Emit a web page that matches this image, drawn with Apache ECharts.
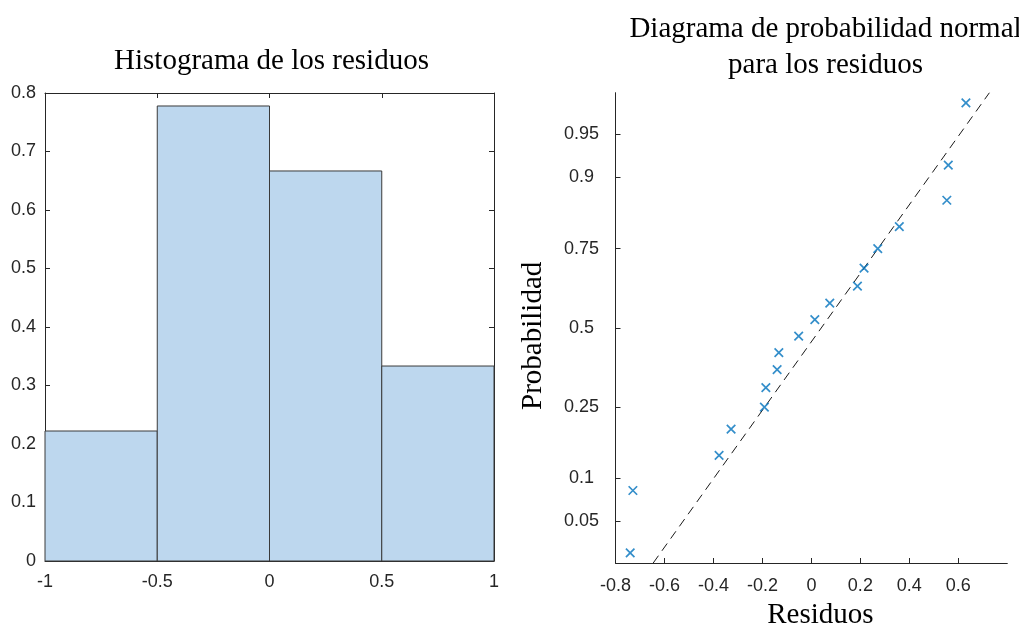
<!DOCTYPE html>
<html>
<head>
<meta charset="utf-8">
<script src="https://cdn.jsdelivr.net/npm/echarts@6/dist/echarts.min.js"></script>
<style>
  html, body { margin: 0; padding: 0; background: #ffffff; }
  #chart { width: 1019px; height: 628px; }
</style>
</head>
<body>
<div id="chart"></div>
<script>
// Histogram bins: edges and normalized heights (probability density)
const binStarts = [-1, -0.5, 0, 0.5];
const binEnds = [-0.5, 0, 0.5, 1];
const binDensity = [0.2222, 0.7778, 0.6667, 0.3333];

// Sorted residuals and their plotting probabilities
const residuals = [-0.740, -0.729, -0.377, -0.328, -0.192, -0.186, -0.140, -0.133, -0.052,
                   0.014, 0.075, 0.188, 0.215, 0.271, 0.359, 0.553, 0.559, 0.631];
const probabilities = [0.0278, 0.0833, 0.1389, 0.1944, 0.25, 0.3056, 0.3611, 0.4167, 0.4722,
                       0.5278, 0.5833, 0.6389, 0.6944, 0.75, 0.8056, 0.8611, 0.9167, 0.9722];

// Reference line ends: residual value and normal quantile
const refLineX = [-0.646, 0.727];
const refLineZ = [-2, 2];

// Probability axis ticks
const probTicks = [0.05, 0.1, 0.25, 0.5, 0.75, 0.9, 0.95];
const probTickLabels = ['0.05', '0.1', '0.25', '0.5', '0.75', '0.9', '0.95'];

// Inverse standard normal CDF (Acklam's rational approximation)
function norminv(p) {
  const a = [-3.969683028665376e+01, 2.209460984245205e+02, -2.759285104469687e+02,
             1.383577518672690e+02, -3.066479806614716e+01, 2.506628277459239e+00];
  const b = [-5.447609879822406e+01, 1.615858368580409e+02, -1.556989798598866e+02,
             6.680131188771972e+01, -1.328068155288572e+01];
  const c = [-7.784894002430293e-03, -3.223964580411365e-01, -2.400758277161838e+00,
             -2.549732539343734e+00, 4.374664141464968e+00, 2.938163982698783e+00];
  const d = [7.784695709041462e-03, 3.224671290700398e-01, 2.445134137142996e+00,
             3.754408661907416e+00];
  const pl = 0.02425, ph = 1 - pl;
  let q, r;
  if (p < pl) {
    q = Math.sqrt(-2 * Math.log(p));
    return (((((c[0]*q+c[1])*q+c[2])*q+c[3])*q+c[4])*q+c[5]) / ((((d[0]*q+d[1])*q+d[2])*q+d[3])*q+1);
  }
  if (p <= ph) {
    q = p - 0.5; r = q * q;
    return (((((a[0]*r+a[1])*r+a[2])*r+a[3])*r+a[4])*r+a[5])*q / (((((b[0]*r+b[1])*r+b[2])*r+b[3])*r+b[4])*r+1);
  }
  q = Math.sqrt(-2 * Math.log(1 - p));
  return -(((((c[0]*q+c[1])*q+c[2])*q+c[3])*q+c[4])*q+c[5]) / ((((d[0]*q+d[1])*q+d[2])*q+d[3])*q+1);
}

const probTickZ = probTicks.map(norminv);

const AX = '#262626';
const SANS = 'Liberation Sans';
const SERIF = 'Liberation Serif';
const tickLabel = { color: AX, fontSize: 18, fontFamily: SANS };

const chart = echarts.init(document.getElementById('chart'), null, { renderer: 'canvas' });

chart.setOption({
  animation: false,
  backgroundColor: '#ffffff',
  title: [
    {
      text: 'Histograma de los residuos',
      left: 271.5, top: 47, padding: 0, textAlign: 'center',
      textStyle: { fontFamily: SERIF, fontSize: 29, fontWeight: 'normal', color: '#000', lineHeight: 29 }
    },
    {
      text: 'Diagrama de probabilidad normal\npara los residuos',
      left: 825.5, top: 11, padding: 0, textAlign: 'center',
      textStyle: { fontFamily: SERIF, fontSize: 29, fontWeight: 'normal', color: '#000', lineHeight: 36 }
    }
  ],
  grid: [
    { left: 45, top: 93, width: 449, height: 468, outerBoundsMode: 'none', containLabel: false },
    { left: 615.5, top: 92.7, width: 391.8, height: 470.3, outerBoundsMode: 'none', containLabel: false }
  ],
  xAxis: [
    {
      gridIndex: 0, type: 'value', min: -1, max: 1, interval: 0.5, position: 'bottom',
      axisLine: { show: true, onZero: false, lineStyle: { color: AX } },
      axisTick: { show: true, inside: true, length: 5, lineStyle: { color: AX } },
      axisLabel: Object.assign({ margin: 12 }, tickLabel),
      splitLine: { show: false }
    },
    {
      gridIndex: 0, type: 'value', min: -1, max: 1, interval: 0.5, position: 'top',
      axisLine: { show: true, onZero: false, lineStyle: { color: AX } },
      axisTick: { show: true, inside: true, length: 5, lineStyle: { color: AX } },
      axisLabel: { show: false },
      splitLine: { show: false }
    },
    {
      gridIndex: 1, type: 'value', min: -0.8, max: 0.8, interval: 0.2, position: 'bottom',
      axisLine: { show: true, onZero: false, lineStyle: { color: AX } },
      axisTick: { show: true, inside: true, length: 5, lineStyle: { color: AX } },
      axisLabel: Object.assign({ margin: 14, showMaxLabel: false }, tickLabel),
      splitLine: { show: false },
      name: 'Residuos', nameLocation: 'middle', nameGap: 38,
      nameTextStyle: { fontFamily: SERIF, fontSize: 29, color: '#000', padding: [0, 0, 0, 18] }
    }
  ],
  yAxis: [
    {
      gridIndex: 0, type: 'value', min: 0, max: 0.8, interval: 0.1, position: 'left',
      axisLine: { show: true, onZero: false, lineStyle: { color: AX } },
      axisTick: { show: true, inside: true, length: 5, lineStyle: { color: AX } },
      axisLabel: Object.assign({ margin: 9 }, tickLabel),
      splitLine: { show: false }
    },
    {
      gridIndex: 0, type: 'value', min: 0, max: 0.8, interval: 0.1, position: 'right',
      axisLine: { show: true, onZero: false, lineStyle: { color: AX } },
      axisTick: { show: true, inside: true, length: 5, lineStyle: { color: AX } },
      axisLabel: { show: false },
      splitLine: { show: false }
    },
    {
      gridIndex: 1, type: 'value', min: -2, max: 2, position: 'left',
      axisLine: { show: true, onZero: false, lineStyle: { color: AX } },
      axisTick: { show: true, inside: true, length: 5, customValues: probTickZ, lineStyle: { color: AX } },
      axisLabel: Object.assign({
        margin: 34, align: 'center', customValues: probTickZ,
        formatter: function (v) {
          for (let i = 0; i < probTickZ.length; i++) {
            if (Math.abs(probTickZ[i] - v) < 1e-6) return probTickLabels[i];
          }
          return '';
        }
      }, tickLabel),
      splitLine: { show: false },
      name: 'Probabilidad', nameLocation: 'middle', nameGap: 68, nameRotate: 90,
      nameTextStyle: { fontFamily: SERIF, fontSize: 29, color: '#000', padding: [0, 16, 0, 0] }
    }
  ],
  series: [
    {
      type: 'custom',
      xAxisIndex: 0, yAxisIndex: 0,
      data: binStarts.map((s, i) => [s, binEnds[i], binDensity[i]]),
      encode: { x: [0, 1], y: 2 },
      renderItem: function (params, api) {
        const p0 = api.coord([api.value(0), 0]);
        const p1 = api.coord([api.value(1), api.value(2)]);
        return {
          type: 'rect',
          shape: { x: p0[0], y: p1[1], width: p1[0] - p0[0], height: p0[1] - p1[1] },
          style: { fill: '#BDD7EE', stroke: '#3a3a3a', lineWidth: 1 }
        };
      },
      silent: true
    },
    {
      type: 'line',
      xAxisIndex: 2, yAxisIndex: 2,
      data: refLineX.map((x, i) => [x, refLineZ[i]]),
      symbol: 'none',
      lineStyle: { color: '#1a1a1a', width: 1, type: [9, 6] },
      silent: true, z: 3
    },
    {
      type: 'scatter',
      xAxisIndex: 2, yAxisIndex: 2,
      data: residuals.map((r, i) => [r, norminv(probabilities[i])]),
      symbol: 'path://M0,0L10,10M10,0L0,10',
      symbolSize: 8.5,
      itemStyle: { color: 'rgba(0,0,0,0)', borderColor: '#0072BD', borderWidth: 1.7 },
      silent: true, z: 4
    }
  ]
});
</script>
</body>
</html>
